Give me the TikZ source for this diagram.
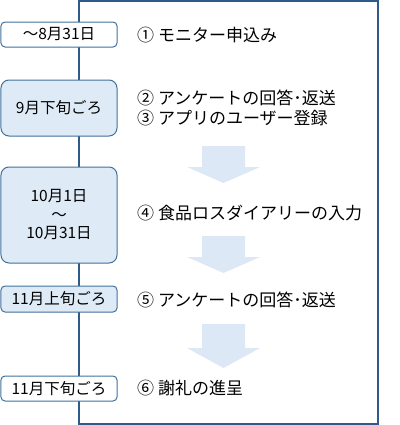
\documentclass[tikz,border=0pt]{standalone}
\usepackage{fontspec}
\setmainfont{Noto Sans CJK JP}
\definecolor{frameblue}{HTML}{2F5B8C}
\definecolor{boxline}{HTML}{41719C}
\definecolor{boxfill}{HTML}{DEEBF7}
\definecolor{arrowfill}{HTML}{DCE8F5}
\tikzset{
  datebox/.style={draw=boxline, line width=1bp, minimum width=116bp, inner sep=0pt,
    font=\fontsize{15.5bp}{18.5bp}\selectfont, align=center},
  smallbox/.style={datebox, rounded corners=4bp},
  bigbox/.style={datebox, rounded corners=8bp},
  steptext/.style={anchor=west, inner sep=0pt, align=left,
    font=\fontsize{17bp}{20bp}\selectfont},
  flowarrow/.style={fill=arrowfill, draw=none},
}
\begin{document}
\begin{tikzpicture}[x=1bp, y=-1bp]
\useasboundingbox (0,0) rectangle (400,425);
% frame
\coordinate (ftl) at (79,1);
\coordinate (ftr) at (378,1);
\coordinate (fbr) at (378,424);
\coordinate (fbl) at (79,424);
\draw[frameblue, line width=1.1bp] (ftl) -- (ftr) -- (fbr) -- (fbl) -- cycle;
% arrows
\foreach \t/\h/\b [count=\i] in {146/167/183, 236/257/273, 324/348/368}{
  \fill[flowarrow] (202,\t) -- (245,\t) -- (245,\h) -- (260,\h) -- (223.5,\b)
    -- (187,\h) -- (202,\h) -- cycle;
}
% date boxes
\node[smallbox, fill=white, minimum height=25bp] (d1) at (59,34.5) {～8月31日};
\node[bigbox, fill=boxfill, minimum height=56bp] (d2) at (59,108) {9月下旬ごろ};
\node[bigbox, fill=boxfill, minimum height=96bp] (d3) at (59,215) {10月1日\\～\\10月31日};
\node[smallbox, fill=boxfill, minimum height=26bp] (d4) at (59,299) {11月上旬ごろ};
\node[smallbox, fill=white, minimum height=25bp] (d5) at (59,388.5) {11月下旬ごろ};
% step texts
\node[steptext] (s1) at (137,35) {① モニター申込み};
\node[steptext] (s2) at (137,98) {② アンケートの回答･返送};
\node[steptext] (s3) at (137,118) {③ アプリのユーザー登録};
\node[steptext] (s4) at (137,213) {④ 食品ロスダイアリーの入力};
\node[steptext] (s5) at (137,300) {⑤ アンケートの回答･返送};
\node[steptext] (s6) at (137,388.5) {⑥ 謝礼の進呈};
\end{tikzpicture}
\end{document}
